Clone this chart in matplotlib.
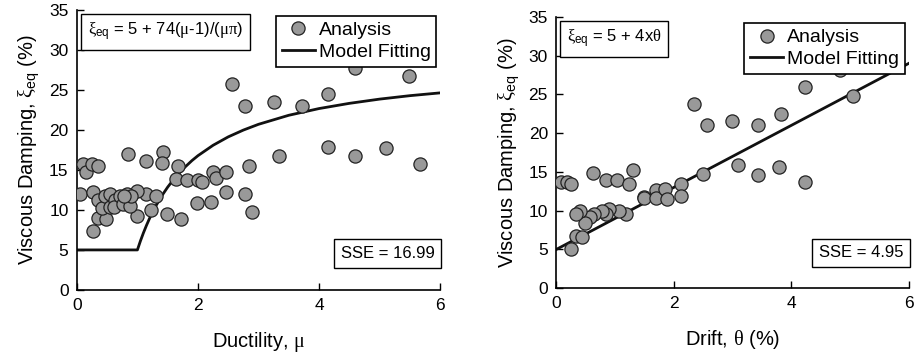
import matplotlib.pyplot as plt
from matplotlib.lines import Line2D

plt.rcParams["font.family"] = ["Liberation Sans", "DejaVu Sans"]
plt.rcParams["mathtext.fontset"] = "custom"
plt.rcParams["mathtext.rm"] = "Liberation Sans"
plt.rcParams["mathtext.it"] = "Liberation Serif"
plt.rcParams["mathtext.cal"] = "Liberation Serif"

# left panel: ductility vs damping
duct_x = [2.56, 2.78, 3.26, 3.72, 4.14, 4.60, 5.48, 4.14, 4.60, 5.10, 5.67, 3.34,
          2.85, 0.84, 1.15, 1.42, 1.41, 1.67, 0.10, 0.15, 0.25, 0.35, 1.64, 1.82,
          2.00, 2.07, 2.25, 2.29, 2.47, 2.47, 2.78, 2.89, 2.21, 1.98, 1.72, 1.49,
          1.23, 0.99, 1.15, 1.31, 0.99, 0.05, 0.26, 0.26, 0.35, 0.48, 0.35, 0.41,
          0.46, 0.55, 0.55, 0.63, 0.61, 0.71, 0.77, 0.82, 0.88, 0.90, 0.78]
duct_y = [25.7, 23.0, 23.5, 23.0, 24.5, 27.8, 26.8, 17.9, 16.75, 17.75, 15.75, 16.75,
          15.5, 17.0, 16.1, 17.3, 15.9, 15.5, 15.75, 14.7, 15.8, 15.5, 13.9, 13.75,
          13.7, 13.5, 14.7, 14.0, 14.75, 12.2, 12.0, 9.7, 11.0, 10.9, 8.9, 9.5,
          10.0, 9.25, 12.0, 11.7, 12.4, 12.0, 12.2, 7.4, 9.0, 8.9, 11.3, 10.3,
          11.7, 12.0, 10.4, 11.3, 10.4, 11.7, 10.75, 12.0, 10.5, 11.7, 11.8]

# model curve
fit_mu = [0.0, 1.0, 1.05, 1.1, 1.15, 1.2, 1.3, 1.4, 1.5, 1.6, 1.75, 1.9, 2.0, 2.25,
          2.5, 2.75, 3.0, 3.5, 4.0, 4.5, 5.0, 5.5, 6.0]
fit_mu_y = [5.0, 5.0, 6.12, 7.14, 8.07, 8.93, 10.44, 11.73, 12.85, 13.83, 15.1, 16.16,
            16.78, 18.08, 19.13, 19.98, 20.7, 21.83, 22.67, 23.32, 23.85, 24.28, 24.63]

# right panel: drift vs damping
drift_x = [0.08, 0.18, 0.25, 0.62, 0.85, 1.03, 1.23, 1.31, 2.34, 2.56, 2.99, 3.43,
           3.83, 4.24, 5.05, 4.84, 2.49, 3.09, 3.43, 3.80, 4.24, 2.12, 1.49, 1.50,
           1.69, 1.69, 1.85, 1.89, 2.12, 1.19, 1.07, 0.90, 0.85, 0.77, 0.64, 0.58,
           0.49, 0.40, 0.34, 0.34, 0.43, 0.25]
drift_y = [13.7, 13.7, 13.4, 14.9, 14.0, 13.9, 13.45, 15.3, 23.8, 21.05, 21.6, 21.05,
           22.5, 26.0, 24.75, 28.1, 14.75, 15.9, 14.6, 15.7, 13.7, 13.4, 11.8, 11.7,
           12.7, 11.7, 12.8, 11.5, 11.9, 9.6, 9.9, 10.2, 9.6, 9.9, 9.6, 9.2,
           8.4, 9.9, 9.6, 6.7, 6.6, 5.1]

fit_th = [0.0, 6.0]
fit_th_y = [5.0, 29.0]

xticks = [0, 2, 4, 6]
yticks = [0, 5, 10, 15, 20, 25, 30, 35]

fig = plt.figure(figsize=(9.15, 3.54), dpi=100)
ax1 = fig.add_axes([0.084, 0.181, 0.397, 0.791])
ax2 = fig.add_axes([0.608, 0.186, 0.385, 0.766])

mk = dict(marker="o", ms=9.5, mfc="#999999", mec="#222222", mew=0.9, ls="none", zorder=3)


def style(ax):
    ax.set_xlim(0, 6)
    ax.set_ylim(0, 35)
    ax.set_xticks(xticks)
    ax.set_yticks(yticks)
    ax.spines["top"].set_visible(False)
    ax.spines["right"].set_visible(False)
    for s in ("left", "bottom"):
        ax.spines[s].set_linewidth(1.2)
    ax.tick_params(direction="in", length=5, width=1, labelsize=12.5, pad=6)
    ax.set_ylabel(r"Viscous Damping, $\xi_{\rm eq}$ (%)", fontsize=14.5, labelpad=5)
    leg_handles = [Line2D([], [], **mk),
                   Line2D([], [], color="#111111", lw=2)]
    return leg_handles


def boxed(ax, x, y, s, ha="left", va="top", fs=12):
    ax.text(x, y, s, transform=ax.transAxes, ha=ha, va=va, fontsize=fs, zorder=5,
            bbox=dict(boxstyle="square,pad=0.4", fc="white", ec="black", lw=1))


def legend(ax, h, anchor):
    leg = ax.legend(h, ["Analysis", "Model Fitting"], loc="upper right",
                    bbox_to_anchor=anchor, fontsize=14, frameon=True,
                    fancybox=False, edgecolor="black", handlelength=1.7,
                    handletextpad=0.2, borderpad=0.3, labelspacing=0.2,
                    borderaxespad=0.0, framealpha=1)
    leg.get_frame().set_linewidth(1.2)
    leg.set_zorder(6)


h = style(ax1)
ax1.plot(fit_mu, fit_mu_y, color="#111111", lw=2, zorder=2)
ax1.plot(duct_x, duct_y, **mk)
ax1.set_xlabel(r"Ductility, $\mu$", fontsize=14.5, labelpad=12)
boxed(ax1, 0.03, 0.96, r"$\xi_{\rm eq}$ = 5 + 74($\mu$-1)/($\mu\pi$)")
boxed(ax1, 0.985, 0.13, "SSE = 16.99", ha="right", va="center")
legend(ax1, h, (0.99, 0.979))

h = style(ax2)
ax2.plot(fit_th, fit_th_y, color="#111111", lw=2, zorder=2)
ax2.plot(drift_x, drift_y, **mk)
ax2.set_xlabel(r"Drift, $\theta$ (%)", fontsize=14.5, labelpad=12)
boxed(ax2, 0.03, 0.96, r"$\xi_{\rm eq}$ = 5 + 4x$\theta$")
boxed(ax2, 0.985, 0.13, "SSE = 4.95", ha="right", va="center")
legend(ax2, h, (0.99, 0.978))

fig.savefig("out.png", dpi=100)
